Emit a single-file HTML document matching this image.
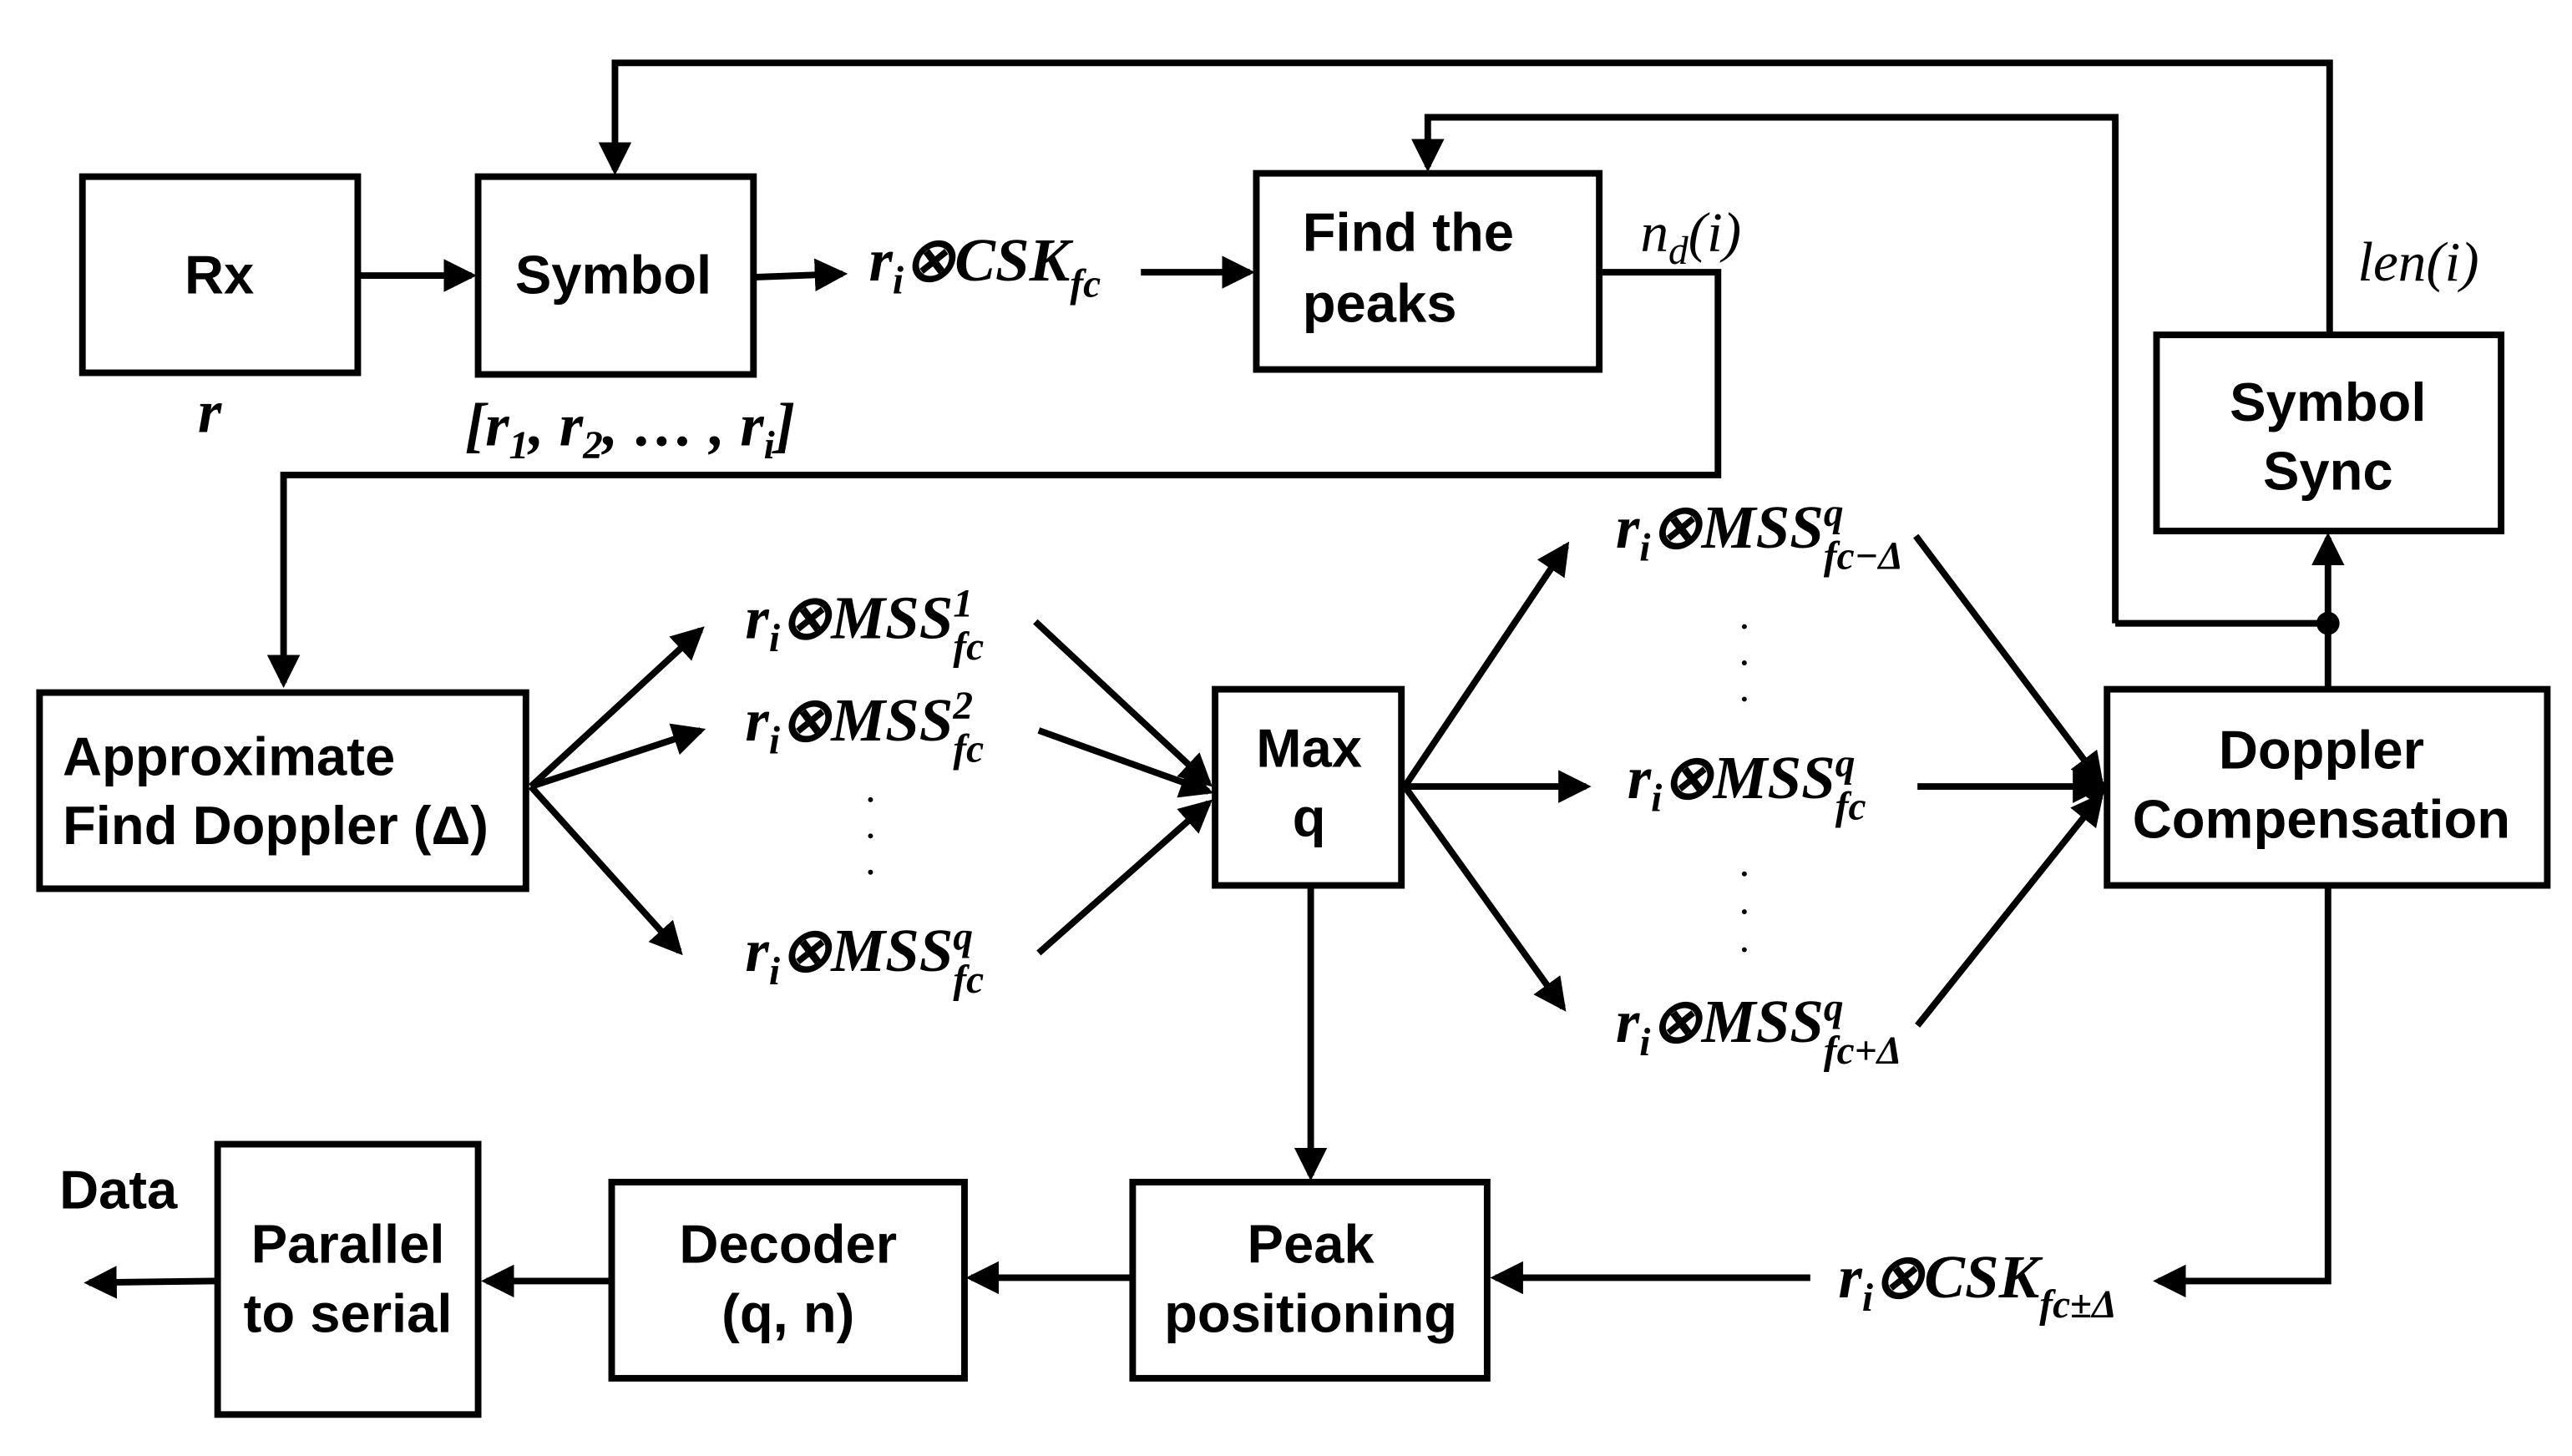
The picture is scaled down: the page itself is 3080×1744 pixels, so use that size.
<!DOCTYPE html>
<html><head><meta charset="utf-8"><style>
html,body{margin:0;padding:0;background:#fff;}
svg{display:block;}
.b{font-family:"Liberation Sans",sans-serif;font-weight:bold;font-size:33px;fill:#000;}
.m{font-family:"Liberation Serif",serif;font-weight:bold;font-style:italic;font-size:37px;fill:#000;}
.mi{font-family:"Liberation Serif",serif;font-style:italic;font-size:34px;fill:#000;}
.s{font-size:24px;}
</style></head><body>
<svg width="3080" height="1744" viewBox="0 0 1560 883" xmlns="http://www.w3.org/2000/svg">
<defs><marker id="a" markerWidth="5" markerHeight="5" refX="4.2" refY="2.5" orient="auto" markerUnits="strokeWidth"><path d="M0,0 L5,2.5 L0,5 z" fill="#000"/></marker></defs>
<g fill="none" stroke="#000" stroke-width="4">
<rect x="50" y="107" width="167" height="119"/>
<rect x="290" y="107" width="167" height="120"/>
<rect x="762" y="105" width="208" height="119"/>
<rect x="1308" y="203" width="209" height="119"/>
<rect x="1278" y="418" width="267" height="119"/>
<rect x="24" y="420" width="295" height="119"/>
<rect x="737" y="418" width="113" height="119"/>
<rect x="687" y="717" width="215" height="119"/>
<rect x="371" y="717" width="214" height="119"/>
<rect x="132" y="694" width="158" height="164"/>
</g>
<g fill="none" stroke="#000" stroke-width="4" marker-end="url(#a)">
<path d="M217,167 L286,167"/>
<path d="M457,168 L511,166"/>
<path d="M692,165 L758,165"/>
<path d="M970,165 L1042,165 L1042,288 L172,288 L172,414"/>
<path d="M1413,203 L1413,38 L373,38 L373,103"/>
<path d="M1283,378 L1283,71 L866,71 L866,101"/>
<path d="M1412,418 L1412,326"/>
<path d="M322,477 L425,382"/>
<path d="M322,477 L425,443"/>
<path d="M322,477 L412,577"/>
<path d="M628,377 L733,475"/>
<path d="M630,443 L733,480"/>
<path d="M630,578 L733,487"/>
<path d="M852,477 L950,331"/>
<path d="M852,477 L962,477"/>
<path d="M852,477 L948,611"/>
<path d="M1162,325 L1274,474"/>
<path d="M1163,477 L1274,477"/>
<path d="M1163,622 L1274,483"/>
<path d="M1412,537 L1412,777 L1309,777"/>
<path d="M1098,775 L907,775"/>
<path d="M795,537 L795,713"/>
<path d="M687,775 L589,775"/>
<path d="M371,777 L295,777"/>
<path d="M132,777 L54,778"/>
</g>
<path d="M1283,378 L1412,378" stroke="#000" stroke-width="4"/>
<circle cx="1412" cy="378" r="7" fill="#000"/>
<circle cx="1270" cy="478" r="7" fill="#000"/>
<g fill="#000">
<circle cx="528" cy="485" r="1.5"/><circle cx="528" cy="507" r="1.5"/><circle cx="528" cy="529" r="1.5"/>
<circle cx="1058" cy="380" r="1.5"/><circle cx="1058" cy="402" r="1.5"/><circle cx="1058" cy="424" r="1.5"/>
<circle cx="1058" cy="530" r="1.5"/><circle cx="1058" cy="553" r="1.5"/><circle cx="1058" cy="576" r="1.5"/>
</g>
<text class="b" x="133" y="178" text-anchor="middle">Rx</text>
<text class="b" x="372" y="178" text-anchor="middle">Symbol</text>
<text class="b" x="790" y="152">Find the</text>
<text class="b" x="790" y="195">peaks</text>
<text class="b" x="1412" y="255" text-anchor="middle">Symbol</text>
<text class="b" x="1412" y="297" text-anchor="middle">Sync</text>
<text class="b" x="1408" y="466" text-anchor="middle">Doppler</text>
<text class="b" x="1408" y="508" text-anchor="middle">Compensation</text>
<text class="b" x="38" y="470">Approximate</text>
<text class="b" x="38" y="512">Find Doppler (Δ)</text>
<text class="b" x="794" y="465" text-anchor="middle">Max</text>
<text class="b" x="794" y="507" text-anchor="middle">q</text>
<text class="b" x="795" y="766" text-anchor="middle">Peak</text>
<text class="b" x="795" y="808" text-anchor="middle">positioning</text>
<text class="b" x="478" y="766" text-anchor="middle">Decoder</text>
<text class="b" x="478" y="808" text-anchor="middle">(q, n)</text>
<text class="b" x="211" y="766" text-anchor="middle">Parallel</text>
<text class="b" x="211" y="808" text-anchor="middle">to serial</text>
<text class="b" x="36" y="733">Data</text>
<text class="m" x="120" y="262">r</text>
<text class="m" x="282" y="270">[r<tspan class="s" dy="8">1</tspan><tspan dy="-8">, r</tspan><tspan class="s" dy="8">2</tspan><tspan dy="-8">, … , r</tspan><tspan class="s" dy="8">i</tspan><tspan dy="-8">]</tspan></text>
<text class="m" x="527" y="170">r<tspan class="s" dy="8">i</tspan><tspan dy="-8">⊗CSK</tspan><tspan class="s" dy="10">fc</tspan></text>
<text class="mi" x="995" y="152">n<tspan class="s" dy="8">d</tspan><tspan dy="-8">(i)</tspan></text>
<text class="mi" x="1430" y="170">len(i)</text>
<text class="m" x="452" y="387">r<tspan class="s" dy="8">i</tspan><tspan dy="-8">⊗MSS</tspan><tspan class="s" dy="-13">1</tspan><tspan class="s" dx="-12" dy="26">fc</tspan></text>
<text class="m" x="452" y="449">r<tspan class="s" dy="8">i</tspan><tspan dy="-8">⊗MSS</tspan><tspan class="s" dy="-13">2</tspan><tspan class="s" dx="-12" dy="26">fc</tspan></text>
<text class="m" x="452" y="589">r<tspan class="s" dy="8">i</tspan><tspan dy="-8">⊗MSS</tspan><tspan class="s" dy="-13">q</tspan><tspan class="s" dx="-12" dy="26">fc</tspan></text>
<text class="m" x="980" y="332">r<tspan class="s" dy="8">i</tspan><tspan dy="-8">⊗MSS</tspan><tspan class="s" dy="-13">q</tspan><tspan class="s" dx="-12" dy="26">fc−Δ</tspan></text>
<text class="m" x="987" y="484">r<tspan class="s" dy="8">i</tspan><tspan dy="-8">⊗MSS</tspan><tspan class="s" dy="-13">q</tspan><tspan class="s" dx="-12" dy="26">fc</tspan></text>
<text class="m" x="980" y="632">r<tspan class="s" dy="8">i</tspan><tspan dy="-8">⊗MSS</tspan><tspan class="s" dy="-13">q</tspan><tspan class="s" dx="-12" dy="26">fc+Δ</tspan></text>
<text class="m" x="1115" y="787">r<tspan class="s" dy="8">i</tspan><tspan dy="-8">⊗CSK</tspan><tspan class="s" dy="12">fc±Δ</tspan></text>
</svg>
</body></html>
